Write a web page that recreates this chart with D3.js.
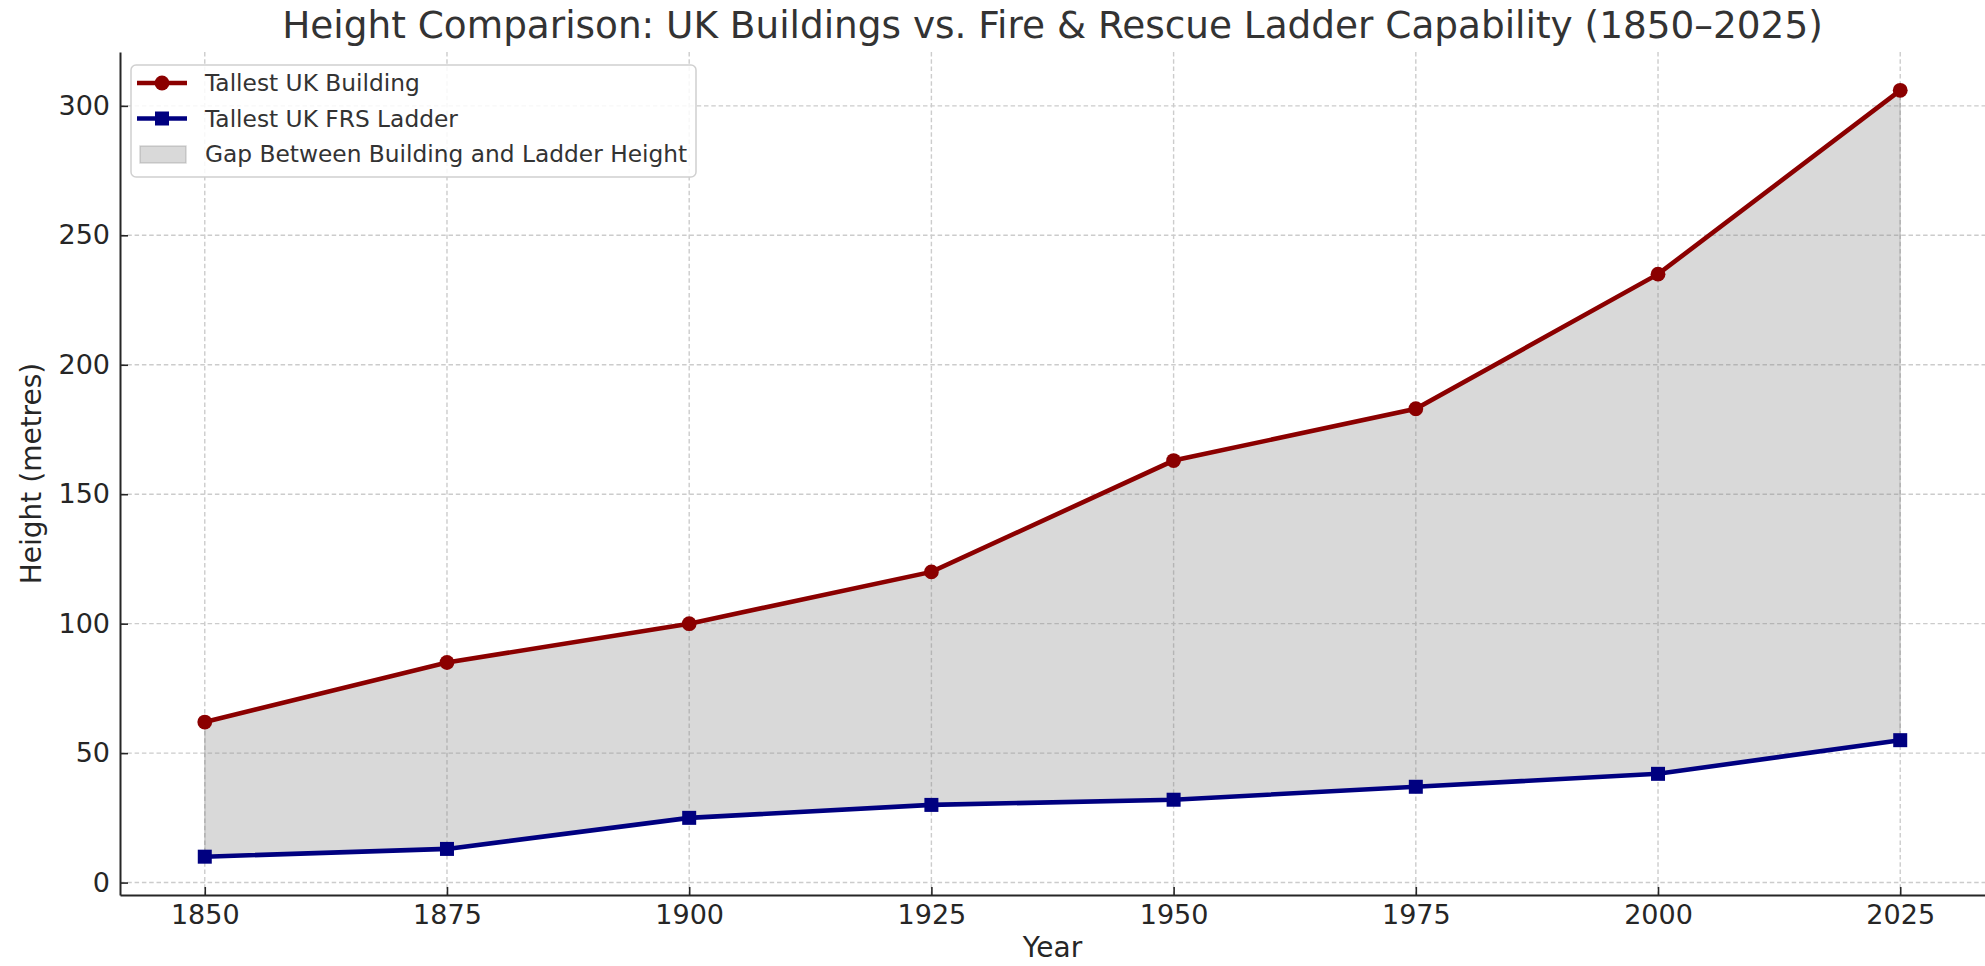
<!DOCTYPE html>
<html>
<head>
<meta charset="utf-8">
<script src="https://cdn.jsdelivr.net/npm/d3@7"></script>
<style>
  body { margin: 0; background: #fff; }
  svg { display: block; font-family: 'DejaVu Sans', sans-serif; }
</style>
</head>
<body>
<svg width="1985" height="966"></svg>
<script>
// values
const years = [1850, 1875, 1900, 1925, 1950, 1975, 2000, 2025]
const buildingHeight = [62, 85, 100, 120, 163, 183, 235, 306]
const ladderHeight = [10, 13, 25, 30, 32, 37, 42, 55]
const yTicks = [0, 50, 100, 150, 200, 250, 300]
const seriesNames = ['Tallest UK Building', 'Tallest UK FRS Ladder', 'Gap Between Building and Ladder Height']

let svg = d3.select('svg')
let plotLeft = 120, plotRight = 1985, plotTop = 52, plotBottom = 895

let x = d3.scaleLinear().domain([1841.25, 2033.75]).range([plotLeft, plotRight])
let y = d3.scaleLinear().domain([-4.8, 320.8]).range([plotBottom, plotTop])

let rows = years.map((yr, i) => ({ year: yr, b: buildingHeight[i], l: ladderHeight[i] }))

// grid
let grid = svg.append('g')
  .attr('stroke', '#cccccc')
  .attr('stroke-width', 1.4)
  .attr('stroke-dasharray', '4.5,2.8')
grid.selectAll('line.gx')
  .data(years)
  .enter().append('line')
    .attr('class', 'gx')
    .attr('x1', d => x(d)).attr('x2', d => x(d))
    .attr('y1', plotTop).attr('y2', plotBottom)
grid.selectAll('line.gy')
  .data(yTicks)
  .enter().append('line')
    .attr('class', 'gy')
    .attr('y1', d => y(d)).attr('y2', d => y(d))
    .attr('x1', plotLeft).attr('x2', plotRight)

// gap area
let area = d3.area()
  .x(d => x(d.year))
  .y0(d => y(d.l))
  .y1(d => y(d.b))
svg.append('path')
  .datum(rows)
  .attr('d', area)
  .attr('fill', '#808080')
  .attr('fill-opacity', 0.3)
  .attr('stroke', '#808080')
  .attr('stroke-opacity', 0.3)
  .attr('stroke-width', 1.5)

// lines
let lineB = d3.line().x(d => x(d.year)).y(d => y(d.b))
let lineL = d3.line().x(d => x(d.year)).y(d => y(d.l))

svg.append('path').datum(rows)
  .attr('d', lineB)
  .attr('fill', 'none')
  .attr('stroke', '#8b0000')
  .attr('stroke-width', 4.6)
svg.append('path').datum(rows)
  .attr('d', lineL)
  .attr('fill', 'none')
  .attr('stroke', '#000080')
  .attr('stroke-width', 4.6)

let rad = 7.4
svg.append('g').selectAll('circle')
  .data(rows)
  .enter().append('circle')
    .attr('cx', d => x(d.year))
    .attr('cy', d => y(d.b))
    .attr('r', rad)
    .attr('fill', '#8b0000')

let sq = 14
svg.append('g').selectAll('rect')
  .data(rows)
  .enter().append('rect')
    .attr('x', d => x(d.year) - sq / 2)
    .attr('y', d => y(d.l) - sq / 2)
    .attr('width', sq).attr('height', sq)
    .attr('fill', '#000080')

// axes, ticks pointing inward
let xAxis = d3.axisBottom(x).tickValues(years).tickFormat(d3.format('d')).tickSizeInner(-8).tickSizeOuter(0).tickPadding(10)
let yAxis = d3.axisLeft(y).tickValues(yTicks).tickSizeInner(-8).tickSizeOuter(0).tickPadding(10)

let gx = svg.append('g')
  .attr('transform', 'translate(0,' + plotBottom + ')')
  .call(xAxis)
let gy = svg.append('g')
  .attr('transform', 'translate(' + plotLeft + ',0)')
  .call(yAxis)

;[gx, gy].forEach(g => {
  g.select('.domain').attr('stroke', '#262626').attr('stroke-width', 2)
  g.selectAll('.tick line').attr('stroke', '#262626').attr('stroke-width', 1.6)
  g.selectAll('.tick text')
    .attr('fill', '#262626')
    .attr('font-size', 27)
    .attr('font-family', 'DejaVu Sans')
})

// titles
svg.append('text')
  .attr('x', (plotLeft + plotRight) / 2)
  .attr('y', 38)
  .attr('text-anchor', 'middle')
  .attr('font-size', 37.4)
  .attr('fill', '#333333')
  .text('Height Comparison: UK Buildings vs. Fire & Rescue Ladder Capability (1850–2025)')

svg.append('text')
  .attr('x', (plotLeft + plotRight) / 2)
  .attr('y', 957)
  .attr('text-anchor', 'middle')
  .attr('font-size', 28)
  .attr('fill', '#262626')
  .text('Year')

svg.append('text')
  .attr('transform', 'translate(41,' + (plotTop + plotBottom) / 2 + ') rotate(-90)')
  .attr('text-anchor', 'middle')
  .attr('font-size', 28)
  .attr('fill', '#262626')
  .text('Height (metres)')

// legend
let legend = svg.append('g').attr('transform', 'translate(131,65)')
legend.append('rect')
  .attr('width', 565).attr('height', 112)
  .attr('rx', 5)
  .attr('fill', 'white').attr('fill-opacity', 0.85)
  .attr('stroke', '#d0d0d0').attr('stroke-width', 1.5)

let items = legend.selectAll('g.item')
  .data(seriesNames)
  .enter().append('g')
    .attr('class', 'item')
    .attr('transform', (d, i) => 'translate(0,' + (18 + i * 35.5) + ')')

items.append('text')
  .attr('x', 74)
  .attr('y', 8)
  .attr('font-size', 23.3)
  .attr('fill', '#333333')
  .text(d => d)

let h0 = items.filter((d, i) => i === 0)
h0.append('line').attr('x1', 6).attr('x2', 56).attr('y1', 0).attr('y2', 0)
  .attr('stroke', '#8b0000').attr('stroke-width', 4.6)
h0.append('circle').attr('cx', 31).attr('cy', 0).attr('r', rad).attr('fill', '#8b0000')

let h1 = items.filter((d, i) => i === 1)
h1.append('line').attr('x1', 6).attr('x2', 56).attr('y1', 0).attr('y2', 0)
  .attr('stroke', '#000080').attr('stroke-width', 4.6)
h1.append('rect').attr('x', 31 - sq / 2).attr('y', -sq / 2).attr('width', sq).attr('height', sq).attr('fill', '#000080')

let h2 = items.filter((d, i) => i === 2)
h2.append('rect').attr('x', 9).attr('y', -8).attr('width', 46).attr('height', 17)
  .attr('fill', '#808080').attr('fill-opacity', 0.3)
  .attr('stroke', '#808080').attr('stroke-opacity', 0.3).attr('stroke-width', 1.5)
</script>
</body>
</html>
